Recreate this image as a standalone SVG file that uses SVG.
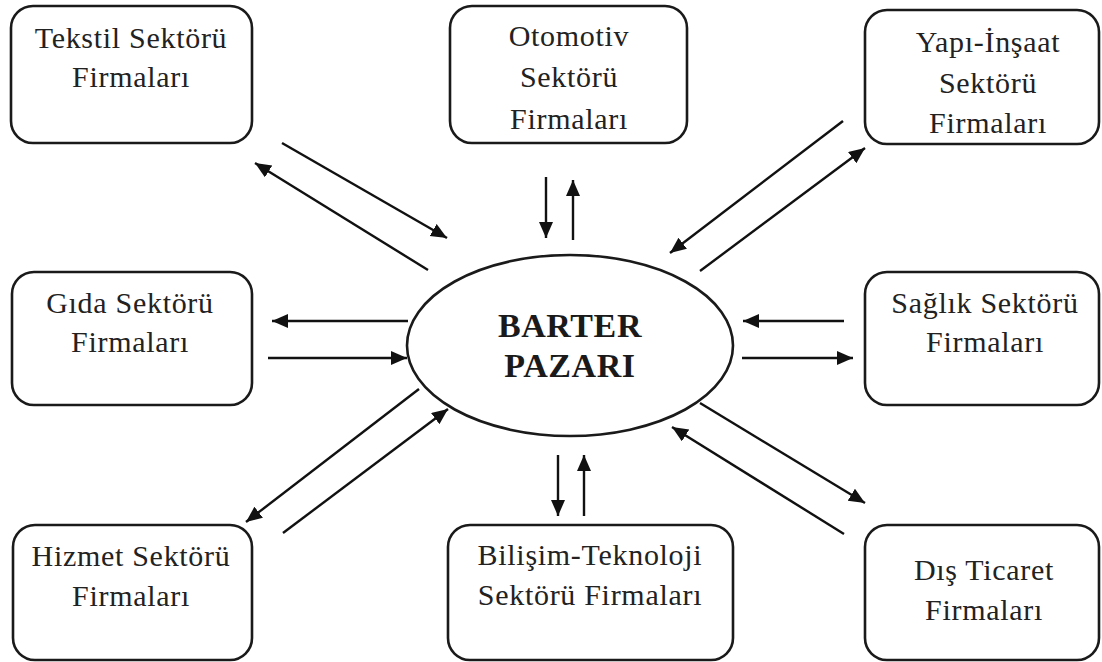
<svg xmlns="http://www.w3.org/2000/svg" width="1102" height="662" viewBox="0 0 1102 662">
<style>
.box{fill:#fff;stroke:#1a1a1a;stroke-width:2.6}
.lbl{font-family:"Liberation Serif","Times New Roman",serif;font-size:30px;fill:#222;text-anchor:middle;letter-spacing:0.7px}
.ctr{font-family:"Liberation Serif","Times New Roman",serif;font-size:34px;font-weight:bold;fill:#1a1a1a;text-anchor:middle;letter-spacing:0.6px}
.con line{stroke:#111;stroke-width:2.4;marker-end:url(#ah)}
</style>
<defs>
<marker id="ah" markerUnits="userSpaceOnUse" markerWidth="18" markerHeight="15" refX="16" refY="7" orient="auto">
<path d="M0,0 L16,7 L0,14 z" fill="#111"/>
</marker>
</defs>
<rect width="1102" height="662" fill="#fff"/>
<g id="connectors" class="con">
<line x1="282" y1="143" x2="447" y2="238"/>
<line x1="428" y1="270" x2="255" y2="163"/>
<line x1="546" y1="177" x2="546" y2="238"/>
<line x1="573" y1="240" x2="573" y2="180"/>
<line x1="843" y1="121" x2="670" y2="253"/>
<line x1="700" y1="271" x2="865" y2="148"/>
<line x1="408" y1="321" x2="272" y2="321"/>
<line x1="268" y1="358" x2="407" y2="358"/>
<line x1="844" y1="321" x2="743" y2="321"/>
<line x1="742" y1="358" x2="853" y2="358"/>
<line x1="419" y1="389" x2="246" y2="522"/>
<line x1="283" y1="533" x2="448" y2="409"/>
<line x1="558" y1="455" x2="558" y2="516"/>
<line x1="584" y1="516" x2="584" y2="455"/>
<line x1="700" y1="403" x2="865" y2="503"/>
<line x1="844" y1="534" x2="672" y2="427"/>
</g>
<g id="barter">
<ellipse cx="570" cy="345.5" rx="163" ry="90.5" class="box"/>
<text x="570" y="337" class="ctr">BARTER</text>
<text x="570" y="377" class="ctr">PAZARI</text>
</g>
<g id="tekstil">
<rect x="11" y="6" width="241" height="137" rx="22" class="box"/>
<text x="131" y="48" class="lbl">Tekstil Sektörü</text>
<text x="131" y="87" class="lbl">Firmaları</text>
</g>
<g id="otomotiv">
<rect x="450" y="6" width="237" height="137" rx="22" class="box"/>
<text x="569" y="46" class="lbl">Otomotiv</text>
<text x="569" y="87" class="lbl">Sektörü</text>
<text x="569" y="129" class="lbl">Firmaları</text>
</g>
<g id="yapi">
<rect x="865" y="10" width="234" height="134" rx="22" class="box"/>
<text x="988" y="52" class="lbl">Yapı-İnşaat</text>
<text x="988" y="93" class="lbl">Sektörü</text>
<text x="988" y="133" class="lbl">Firmaları</text>
</g>
<g id="gida">
<rect x="12" y="272" width="240" height="133" rx="22" class="box"/>
<text x="130" y="313" class="lbl">Gıda Sektörü</text>
<text x="130" y="352" class="lbl">Firmaları</text>
</g>
<g id="saglik">
<rect x="865" y="272" width="234" height="133" rx="22" class="box"/>
<text x="985" y="313" class="lbl">Sağlık Sektörü</text>
<text x="985" y="352" class="lbl">Firmaları</text>
</g>
<g id="hizmet">
<rect x="13" y="525" width="239" height="135" rx="22" class="box"/>
<text x="131" y="566" class="lbl">Hizmet Sektörü</text>
<text x="131" y="606" class="lbl">Firmaları</text>
</g>
<g id="bilisim">
<rect x="448" y="525" width="285" height="135" rx="22" class="box"/>
<text x="590" y="565" class="lbl">Bilişim-Teknoloji</text>
<text x="590" y="605" class="lbl">Sektörü Firmaları</text>
</g>
<g id="dis">
<rect x="865" y="525" width="234" height="135" rx="22" class="box"/>
<text x="984" y="580" class="lbl">Dış Ticaret</text>
<text x="984" y="620" class="lbl">Firmaları</text>
</g>
</svg>
